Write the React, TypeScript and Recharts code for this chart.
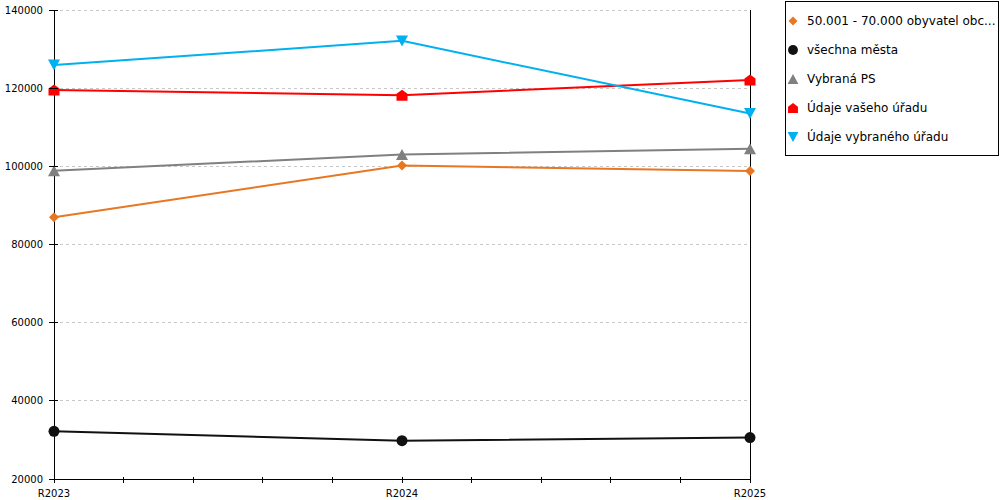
import React from 'react';
import { LineChart, Line, XAxis, YAxis, CartesianGrid, ReferenceLine } from 'recharts';

const categories = ['R2023', 'R2024', 'R2025'];
const obce = [87000, 100200, 98800];
const mesta = [32200, 29800, 30600];
const vybranaPS = [98900, 103000, 104500];
const vasUrad = [119500, 118200, 122100];
const vybranyUrad = [125900, 132100, 113500];

const yTicks = [20000, 40000, 60000, 80000, 100000, 120000, 140000];
const xTicks = [0, 0.2, 0.4, 0.6, 0.8, 1, 1.2, 1.4, 1.6, 1.8, 2];

const data = categories.map((c, i) => ({
  x: i,
  name: c,
  obce: obce[i],
  mesta: mesta[i],
  ps: vybranaPS[i],
  vas: vasUrad[i],
  vyb: vybranyUrad[i],
}));

const FONT = '"DejaVu Sans", Verdana, sans-serif';

type ShapeKind = 'diamond' | 'circle' | 'up' | 'house' | 'down';

function shapeEl(kind: ShapeKind, cx: number, cy: number, fill: string, s = 1, key?: any) {
  const p = (pts: number[][]) => pts.map(([a, b]) => `${cx + a * s},${cy + b * s}`).join(' ');
  switch (kind) {
    case 'diamond':
      return <polygon key={key} points={p([[0, -5], [5, 0], [0, 5], [-5, 0]])} fill={fill} />;
    case 'circle':
      return <circle key={key} cx={cx} cy={cy} r={5.5 * s} fill={fill} />;
    case 'up':
      return <polygon key={key} points={p([[0, -5.5], [6, 5.5], [-6, 5.5]])} fill={fill} />;
    case 'house':
      return (
        <polygon
          key={key}
          points={p([[0, -5.5], [5.5, -1.5], [5.5, 5.5], [-5.5, 5.5], [-5.5, -1.5]])}
          fill={fill}
        />
      );
    case 'down':
      return <polygon key={key} points={p([[-6, -5.5], [6, -5.5], [0, 5.5]])} fill={fill} />;
  }
}

const series = [
  { key: 'obce', name: '50.001 - 70.000 obyvatel obc...', color: '#E87722', shape: 'diamond' as ShapeKind },
  { key: 'mesta', name: 'všechna města', color: '#111111', shape: 'circle' as ShapeKind },
  { key: 'ps', name: 'Vybraná PS', color: '#808080', shape: 'up' as ShapeKind },
  { key: 'vas', name: 'Údaje vašeho úřadu', color: '#FF0000', shape: 'house' as ShapeKind },
  { key: 'vyb', name: 'Údaje vybraného úřadu', color: '#00B0F0', shape: 'down' as ShapeKind },
];

const YTick = (props: any) => {
  const { x, y, payload } = props;
  return (
    <g>
      <line x1={x + 1} x2={x + 10} y1={y} y2={y} stroke="#000" strokeWidth={1} shapeRendering="crispEdges" />
      <text x={x - 5} y={y + 3.5} textAnchor="end" fontSize={10} fontFamily={FONT} fill="#000">
        {payload.value}
      </text>
    </g>
  );
};

const XTick = (props: any) => {
  const { x, y, payload } = props;
  const v = Math.round(payload.value * 10) / 10;
  const isMajor = Number.isInteger(v);
  return (
    <g>
      <line x1={x} x2={x} y1={y - 5} y2={y + 1} stroke="#000" strokeWidth={1} shapeRendering="crispEdges" />
      {isMajor && (
        <text x={x} y={y + 15} textAnchor="middle" fontSize={10} fontFamily={FONT} fill="#000">
          {categories[v]}
        </text>
      )}
    </g>
  );
};

export default function App() {
  return (
    <div style={{ position: 'absolute', left: 0, top: 0, width: 1000, height: 500, background: '#fff' }}>
      <LineChart
        width={1000}
        height={500}
        data={data}
        margin={{ top: 10, right: 250, bottom: 0, left: 0 }}
      >
        <CartesianGrid vertical={false} stroke="#c8c8c8" strokeDasharray="3 3" shapeRendering="crispEdges" />
        <XAxis
          type="number"
          dataKey="x"
          domain={[0, 2]}
          ticks={xTicks}
          interval={0}
          height={21}
          tickSize={3}
          tickMargin={0}
          tickLine={false}
          axisLine={{ stroke: '#000', shapeRendering: 'crispEdges' }}
          tick={<XTick />}
        />
        <YAxis
          type="number"
          domain={[20000, 140000]}
          ticks={yTicks}
          interval={0}
          width={54}
          tickSize={4}
          tickMargin={2}
          tickLine={false}
          axisLine={{ stroke: '#000', shapeRendering: 'crispEdges' }}
          tick={<YTick />}
        />
        <ReferenceLine x={2} stroke="#000" strokeWidth={1} shapeRendering="crispEdges" />
        {series.map((s) => (
          <Line
            key={s.key}
            type="linear"
            dataKey={s.key}
            name={s.name}
            stroke={s.color}
            strokeWidth={2}
            isAnimationActive={false}
            dot={(p: any) => shapeEl(s.shape, p.cx, p.cy, s.color, 1, `${s.key}-${p.index}`)}
            activeDot={false}
          />
        ))}
      </LineChart>
      <div
        style={{
          position: 'absolute',
          left: 785,
          top: 1,
          width: 214,
          height: 155,
          border: '1px solid #000',
          background: '#fff',
          paddingTop: 4,
          boxSizing: 'border-box',
          fontFamily: FONT,
          fontSize: 12,
          color: '#000',
        }}
      >
        {series.map((s) => (
          <div key={s.key} style={{ display: 'flex', alignItems: 'center', height: 29 }}>
            <svg width={12} height={12} style={{ marginLeft: 1, flex: 'none' }}>
              {shapeEl(s.shape, 6, 6, s.color, 0.9)}
            </svg>
            <span style={{ marginLeft: 8, whiteSpace: 'nowrap' }}>{s.name}</span>
          </div>
        ))}
      </div>
    </div>
  );
}
